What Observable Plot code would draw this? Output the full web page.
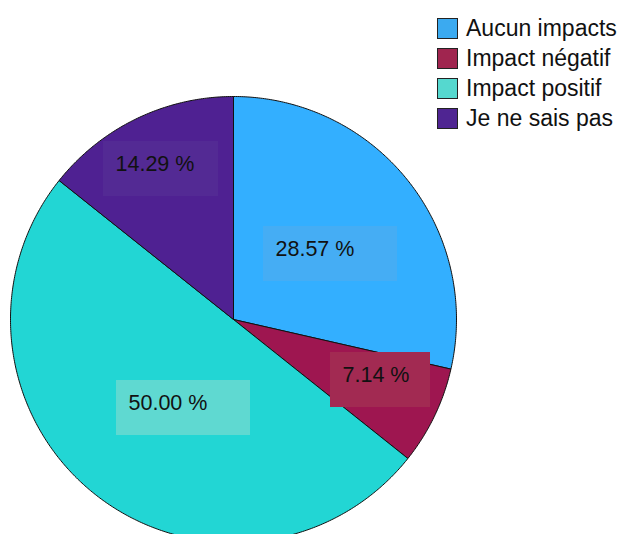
<!DOCTYPE html>
<html><head><meta charset="utf-8">
<script src="https://cdn.jsdelivr.net/npm/d3@7"></script>
<script src="https://cdn.jsdelivr.net/npm/@observablehq/plot@0.6"></script>
<style>
body{margin:0;background:#fff;font-family:"Liberation Sans",Arial,sans-serif;}
#wrap{position:relative;width:625px;height:534px;overflow:hidden;}
#legend{position:absolute;left:437px;top:13px;}
.item{display:flex;align-items:center;height:30px;font-size:23px;color:#111;}
.sw{width:19px;height:19px;border:1px solid #222;margin-right:8px;box-sizing:content-box;}
</style></head>
<body><div id="wrap"><div id="chart"></div><div id="legend"></div></div>
<script>
const categories = ["Aucun impacts", "Impact négatif", "Impact positif", "Je ne sais pas"];
const values = [28.57, 7.14, 50.00, 14.29];
const labels = ["28.57 %", "7.14 %", "50.00 %", "14.29 %"];
const colors = ["#33AFFF", "#9E1650", "#22D6D4", "#4F2192"];
const boxColors = ["#45ADF4", "#A22A52", "#5FD9D1", "#532A94"];
const legendColors = ["#3BAAF0", "#A0254F", "#55D8CF", "#4F2592"];
// label box layout (pixels: left, top, width)
const boxLeft = [263, 330, 116, 103];
const boxTop = [226, 352, 380, 141];
const boxWidth = [134, 100, 134, 115];

const cx = 233, cy = 319, R = 223;
const toX = px => (px - cx) / R;
const toY = py => (cy - py) / R;

const total = d3.sum(values);
const pts = [];
let acc = 0;
values.forEach((v, i) => {
  const a0 = acc / total * 2 * Math.PI;
  acc += v;
  const a1 = acc / total * 2 * Math.PI;
  pts.push({cat: categories[i], x: 0, y: 0});
  const n = Math.max(2, Math.ceil((a1 - a0) / (Math.PI / 360)));
  for (let k = 0; k <= n; k++) {
    const a = a0 + (a1 - a0) * k / n;
    pts.push({cat: categories[i], x: Math.sin(a), y: Math.cos(a)});
  }
  pts.push({cat: categories[i], x: 0, y: 0});
});

const boxes = categories.map((c, i) => ({
  cat: c, label: labels[i], fill: boxColors[i],
  x1: toX(boxLeft[i]), x2: toX(boxLeft[i] + boxWidth[i]),
  y1: toY(boxTop[i]), y2: toY(boxTop[i] + 55),
  tx: toX(boxLeft[i] + 12), ty: toY(boxTop[i] + 23)
}));

const chart = Plot.plot({
  width: 625, height: 534,
  margin: 0,
  x: {domain: [-1, 1], range: [cx - R, cx + R], axis: null},
  y: {domain: [-1, 1], range: [cy + R, cy - R], axis: null},
  color: {domain: categories, range: colors},
  style: {fontFamily: "Liberation Sans, Arial, sans-serif", background: "white"},
  marks: [
    Plot.line(pts, {x: "x", y: "y", z: "cat", fill: "cat", stroke: "#111", strokeWidth: 1, curve: "linear"}),
    Plot.rect(boxes, {x1: "x1", x2: "x2", y1: "y1", y2: "y2", fill: d => d.fill}),
    Plot.text(boxes, {x: "tx", y: "ty", text: "label", textAnchor: "start", fontSize: 21.5, fill: "#111"})
  ]
});
document.getElementById("chart").appendChild(chart);

const lg = document.getElementById("legend");
categories.forEach((c, i) => {
  const it = document.createElement("div");
  it.className = "item";
  it.innerHTML = `<div class="sw" style="background:${legendColors[i]}"></div><span>${c}</span>`;
  lg.appendChild(it);
});
</script></body></html>
